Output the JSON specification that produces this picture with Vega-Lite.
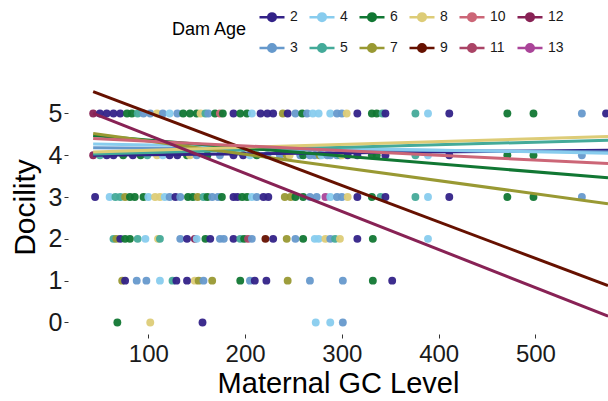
{
  "$schema": "https://vega.github.io/schema/vega-lite/v6.json",
  "width": 540,
  "height": 254,
  "autosize": "none",
  "padding": {"left": 68, "top": 80, "right": 0, "bottom": 67},
  "background": "white",
  "config": {"view": {"stroke": null}, "font": "Liberation Sans"},
  "datasets": {
    "points": [
      {"gc":43,"doc":5,"age":"12"},{"gc":50,"doc":5,"age":"2"},{"gc":57,"doc":5,"age":"2"},{"gc":64,"doc":5,"age":"2"},{"gc":71,"doc":5,"age":"2"},{"gc":78,"doc":5,"age":"6"},{"gc":83,"doc":5,"age":"6"},{"gc":89,"doc":5,"age":"5"},{"gc":95,"doc":5,"age":"3"},{"gc":102,"doc":5,"age":"3"},{"gc":109,"doc":5,"age":"8"},{"gc":115,"doc":5,"age":"3"},{"gc":122,"doc":5,"age":"4"},{"gc":130,"doc":5,"age":"3"},{"gc":136,"doc":5,"age":"6"},{"gc":143,"doc":5,"age":"6"},{"gc":150,"doc":5,"age":"6"},{"gc":154,"doc":5,"age":"8"},{"gc":159,"doc":5,"age":"5"},{"gc":162,"doc":5,"age":"3"},{"gc":169,"doc":5,"age":"6"},{"gc":174,"doc":5,"age":"10"},{"gc":177,"doc":5,"age":"6"},{"gc":188,"doc":5,"age":"2"},{"gc":195,"doc":5,"age":"6"},{"gc":202,"doc":5,"age":"6"},{"gc":207,"doc":5,"age":"4"},{"gc":216,"doc":5,"age":"2"},{"gc":223,"doc":5,"age":"2"},{"gc":229,"doc":5,"age":"2"},{"gc":239,"doc":5,"age":"7"},{"gc":244,"doc":5,"age":"2"},{"gc":252,"doc":5,"age":"3"},{"gc":259,"doc":5,"age":"6"},{"gc":264,"doc":5,"age":"3"},{"gc":270,"doc":5,"age":"4"},{"gc":276,"doc":5,"age":"4"},{"gc":288,"doc":5,"age":"4"},{"gc":295,"doc":5,"age":"3"},{"gc":300,"doc":5,"age":"3"},{"gc":305,"doc":5,"age":"8"},{"gc":316,"doc":5,"age":"2"},{"gc":331,"doc":5,"age":"6"},{"gc":336,"doc":5,"age":"6"},{"gc":342,"doc":5,"age":"5"},{"gc":345,"doc":5,"age":"2"},{"gc":376,"doc":5,"age":"5"},{"gc":389,"doc":5,"age":"4"},{"gc":411,"doc":5,"age":"2"},{"gc":471,"doc":5,"age":"6"},{"gc":498,"doc":5,"age":"6"},{"gc":548,"doc":5,"age":"3"},{"gc":573,"doc":5,"age":"2"},
      {"gc":43,"doc":4,"age":"12"},{"gc":50,"doc":4,"age":"5"},{"gc":57,"doc":4,"age":"2"},{"gc":64,"doc":4,"age":"2"},{"gc":74,"doc":4,"age":"6"},{"gc":84,"doc":4,"age":"2"},{"gc":92,"doc":4,"age":"6"},{"gc":99,"doc":4,"age":"5"},{"gc":109,"doc":4,"age":"8"},{"gc":115,"doc":4,"age":"4"},{"gc":122,"doc":4,"age":"2"},{"gc":130,"doc":4,"age":"2"},{"gc":140,"doc":4,"age":"6"},{"gc":143,"doc":4,"age":"8"},{"gc":150,"doc":4,"age":"3"},{"gc":161,"doc":4,"age":"6"},{"gc":174,"doc":4,"age":"3"},{"gc":188,"doc":4,"age":"2"},{"gc":198,"doc":4,"age":"2"},{"gc":205,"doc":4,"age":"4"},{"gc":212,"doc":4,"age":"6"},{"gc":223,"doc":4,"age":"3"},{"gc":236,"doc":4,"age":"3"},{"gc":243,"doc":4,"age":"7"},{"gc":246,"doc":4,"age":"8"},{"gc":257,"doc":4,"age":"3"},{"gc":260,"doc":4,"age":"6"},{"gc":267,"doc":4,"age":"3"},{"gc":272,"doc":4,"age":"3"},{"gc":277,"doc":4,"age":"7"},{"gc":279,"doc":4,"age":"4"},{"gc":285,"doc":4,"age":"3"},{"gc":288,"doc":4,"age":"3"},{"gc":295,"doc":4,"age":"3"},{"gc":298,"doc":4,"age":"5"},{"gc":300,"doc":4,"age":"8"},{"gc":306,"doc":4,"age":"2"},{"gc":316,"doc":4,"age":"2"},{"gc":331,"doc":4,"age":"6"},{"gc":336,"doc":4,"age":"6"},{"gc":345,"doc":4,"age":"2"},{"gc":376,"doc":4,"age":"5"},{"gc":389,"doc":4,"age":"4"},{"gc":411,"doc":4,"age":"2"},{"gc":471,"doc":4,"age":"6"},{"gc":498,"doc":4,"age":"6"},{"gc":548,"doc":4,"age":"3"},
      {"gc":45,"doc":3,"age":"2"},{"gc":60,"doc":3,"age":"4"},{"gc":66,"doc":3,"age":"5"},{"gc":71,"doc":3,"age":"5"},{"gc":76,"doc":3,"age":"7"},{"gc":81,"doc":3,"age":"6"},{"gc":86,"doc":3,"age":"6"},{"gc":95,"doc":3,"age":"6"},{"gc":100,"doc":3,"age":"4"},{"gc":107,"doc":3,"age":"8"},{"gc":112,"doc":3,"age":"8"},{"gc":117,"doc":3,"age":"4"},{"gc":122,"doc":3,"age":"3"},{"gc":128,"doc":3,"age":"2"},{"gc":133,"doc":3,"age":"3"},{"gc":141,"doc":3,"age":"6"},{"gc":146,"doc":3,"age":"6"},{"gc":151,"doc":3,"age":"7"},{"gc":157,"doc":3,"age":"5"},{"gc":161,"doc":3,"age":"6"},{"gc":166,"doc":3,"age":"3"},{"gc":172,"doc":3,"age":"3"},{"gc":176,"doc":3,"age":"6"},{"gc":188,"doc":3,"age":"2"},{"gc":192,"doc":3,"age":"2"},{"gc":197,"doc":3,"age":"6"},{"gc":202,"doc":3,"age":"6"},{"gc":207,"doc":3,"age":"4"},{"gc":212,"doc":3,"age":"3"},{"gc":219,"doc":3,"age":"2"},{"gc":224,"doc":3,"age":"2"},{"gc":241,"doc":3,"age":"7"},{"gc":247,"doc":3,"age":"7"},{"gc":252,"doc":3,"age":"6"},{"gc":260,"doc":3,"age":"6"},{"gc":267,"doc":3,"age":"3"},{"gc":274,"doc":3,"age":"3"},{"gc":283,"doc":3,"age":"13"},{"gc":288,"doc":3,"age":"4"},{"gc":295,"doc":3,"age":"3"},{"gc":300,"doc":3,"age":"3"},{"gc":306,"doc":3,"age":"8"},{"gc":316,"doc":3,"age":"2"},{"gc":331,"doc":3,"age":"6"},{"gc":340,"doc":3,"age":"5"},{"gc":345,"doc":3,"age":"2"},{"gc":376,"doc":3,"age":"5"},{"gc":389,"doc":3,"age":"4"},{"gc":411,"doc":3,"age":"2"},{"gc":471,"doc":3,"age":"6"},{"gc":498,"doc":3,"age":"6"},{"gc":548,"doc":3,"age":"3"},
      {"gc":64,"doc":2,"age":"5"},{"gc":67,"doc":2,"age":"7"},{"gc":71,"doc":2,"age":"2"},{"gc":76,"doc":2,"age":"6"},{"gc":81,"doc":2,"age":"6"},{"gc":89,"doc":2,"age":"5"},{"gc":97,"doc":2,"age":"4"},{"gc":110,"doc":2,"age":"8"},{"gc":112,"doc":2,"age":"5"},{"gc":133,"doc":2,"age":"3"},{"gc":140,"doc":2,"age":"2"},{"gc":148,"doc":2,"age":"12"},{"gc":150,"doc":2,"age":"4"},{"gc":159,"doc":2,"age":"6"},{"gc":164,"doc":2,"age":"2"},{"gc":174,"doc":2,"age":"3"},{"gc":178,"doc":2,"age":"3"},{"gc":188,"doc":2,"age":"2"},{"gc":195,"doc":2,"age":"5"},{"gc":199,"doc":2,"age":"6"},{"gc":203,"doc":2,"age":"11"},{"gc":207,"doc":2,"age":"3"},{"gc":221,"doc":2,"age":"9"},{"gc":229,"doc":2,"age":"2"},{"gc":243,"doc":2,"age":"7"},{"gc":252,"doc":2,"age":"3"},{"gc":260,"doc":2,"age":"6"},{"gc":272,"doc":2,"age":"4"},{"gc":276,"doc":2,"age":"4"},{"gc":283,"doc":2,"age":"8"},{"gc":288,"doc":2,"age":"3"},{"gc":293,"doc":2,"age":"5"},{"gc":298,"doc":2,"age":"8"},{"gc":316,"doc":2,"age":"2"},{"gc":332,"doc":2,"age":"6"},{"gc":389,"doc":2,"age":"4"},
      {"gc":73,"doc":1,"age":"7"},{"gc":76,"doc":1,"age":"2"},{"gc":88,"doc":1,"age":"3"},{"gc":98,"doc":1,"age":"3"},{"gc":112,"doc":1,"age":"4"},{"gc":125,"doc":1,"age":"5"},{"gc":129,"doc":1,"age":"2"},{"gc":140,"doc":1,"age":"2"},{"gc":148,"doc":1,"age":"8"},{"gc":152,"doc":1,"age":"7"},{"gc":157,"doc":1,"age":"3"},{"gc":166,"doc":1,"age":"7"},{"gc":195,"doc":1,"age":"6"},{"gc":205,"doc":1,"age":"3"},{"gc":210,"doc":1,"age":"2"},{"gc":222,"doc":1,"age":"2"},{"gc":244,"doc":1,"age":"7"},{"gc":267,"doc":1,"age":"3"},{"gc":301,"doc":1,"age":"3"},{"gc":332,"doc":1,"age":"6"},{"gc":352,"doc":1,"age":"2"},
      {"gc":68,"doc":0,"age":"6"},{"gc":102,"doc":0,"age":"8"},{"gc":156,"doc":0,"age":"2"},{"gc":273,"doc":0,"age":"4"},{"gc":288,"doc":0,"age":"4"},{"gc":301,"doc":0,"age":"3"}
    ],
    "fits": [
      {"gc":43,"doc":4.00,"age":"2"},{"gc":575,"doc":4.12,"age":"2"},
      {"gc":43,"doc":4.18,"age":"3"},{"gc":575,"doc":4.08,"age":"3"},
      {"gc":43,"doc":4.27,"age":"4"},{"gc":575,"doc":4.05,"age":"4"},
      {"gc":43,"doc":4.03,"age":"5"},{"gc":575,"doc":4.36,"age":"5"},
      {"gc":43,"doc":4.47,"age":"6"},{"gc":575,"doc":3.46,"age":"6"},
      {"gc":43,"doc":4.52,"age":"7"},{"gc":575,"doc":2.84,"age":"7"},
      {"gc":43,"doc":4.08,"age":"8"},{"gc":575,"doc":4.45,"age":"8"},
      {"gc":43,"doc":5.52,"age":"9"},{"gc":575,"doc":0.88,"age":"9"},
      {"gc":43,"doc":4.40,"age":"10"},{"gc":575,"doc":3.80,"age":"10"},
      {"gc":43,"doc":5.00,"age":"12"},{"gc":575,"doc":0.15,"age":"12"}
    ]
  },
  "encoding": {
    "x": {
      "field": "gc", "type": "quantitative",
      "scale": {"domain": [17, 575], "nice": false, "zero": false},
      "axis": {"title": "Maternal GC Level", "values": [100, 200, 300, 400, 500], "grid": false, "domain": false,
        "tickColor": "#333333", "tickSize": 4, "labelFontSize": 24, "labelColor": "#1a1a1a", "labelPadding": 4,
        "titleFontSize": 29, "titleFontWeight": "normal", "titleColor": "#000000", "titlePadding": 3}
    },
    "y": {
      "field": "doc", "type": "quantitative",
      "scale": {"domain": [-0.276, 5.8], "nice": false, "zero": false},
      "axis": {"title": "Docility", "values": [0, 1, 2, 3, 4, 5], "grid": false, "domain": false,
        "tickColor": "#333333", "tickSize": 4, "labelFontSize": 25, "labelColor": "#1a1a1a", "labelPadding": 2,
        "titleFontSize": 30, "titleFontWeight": "normal", "titleColor": "#000000", "titlePadding": 8}
    },
    "color": {
      "field": "age", "type": "nominal",
      "scale": {
        "domain": ["2", "4", "6", "8", "10", "12", "3", "5", "7", "9", "11", "13"],
        "range": ["#332288", "#88CCEE", "#117733", "#DDCC77", "#CC6677", "#882255", "#6699CC", "#44AA99", "#999933", "#661100", "#AA4466", "#AA4499"]
      },
      "legend": {
        "title": "Dam Age", "orient": "none", "legendX": 104, "legendY": -77,
        "direction": "horizontal", "columns": 6, "titleOrient": "left", "titleAnchor": "middle", "titleBaseline": "middle",
        "titleFontSize": 18, "titleFontWeight": "normal", "titleColor": "#000000", "titlePadding": 10,
        "labelFontSize": 14, "labelColor": "#1a1a1a", "labelOffset": 4,
        "symbolType": "M-1,0H1M-0.3,0A0.3,0.3,0,1,1,0.3,0A0.3,0.3,0,1,1,-0.3,0Z",
        "symbolSize": 625, "symbolStrokeWidth": 2.5, "symbolOpacity": 1,
        "columnPadding": 6, "rowPadding": 8,
        "encode": {"symbols": {"update": {
          "fill": {"scale": "color", "field": "value"},
          "stroke": {"scale": "color", "field": "value"},
          "strokeWidth": {"value": 2.5},
          "opacity": {"value": 1}
        }}}
      }
    }
  },
  "layer": [
    {"data": {"name": "points"}, "mark": {"type": "circle", "size": 62, "opacity": 0.95}},
    {"data": {"name": "fits"}, "mark": {"type": "line", "strokeWidth": 3, "clip": true}}
  ]
}
